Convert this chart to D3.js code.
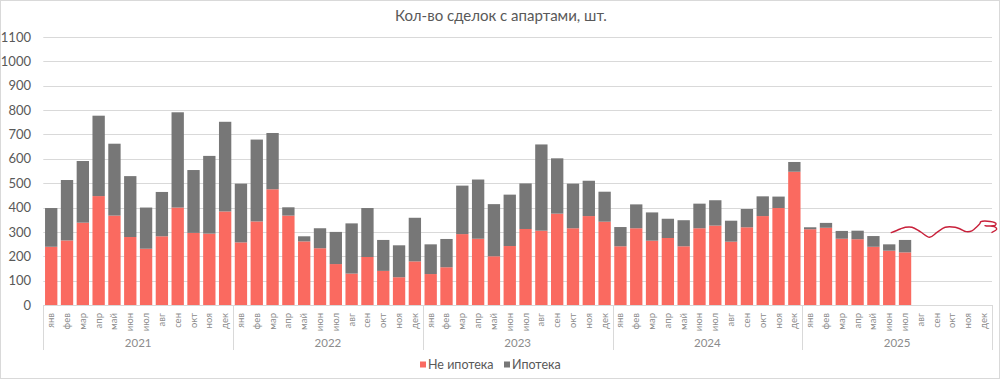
<!DOCTYPE html>
<html><head><meta charset="utf-8">
<script src="https://cdn.jsdelivr.net/npm/d3@7"></script>
<style>body{margin:0;background:#fff;}svg{display:block;font-family:Lato,"Noto Sans",sans-serif;}</style>
</head><body><svg id="c" width="1000" height="379"></svg>
<script>
const title = "Кол-во сделок с апартами, шт.";
const years = ["2021","2022","2023","2024","2025"];
const months = ["янв","фев","мар","апр","май","июн","июл","авг","сен","окт","ноя","дек"];
const seriesNames = ["Не ипотека","Ипотека"];
// Не ипотека (by month, 2021..2025; 2025 ends in July)
const nonMortgage = [
  239,265,338,447,367,279,231,282,400,296,293,384,
  257,343,475,367,261,233,168,129,197,140,114,179,
  127,155,291,272,200,242,312,305,375,315,365,342,
  241,315,264,275,241,315,326,260,319,365,398,547,
  311,317,272,270,239,223,216
];
// Ипотека
const mortgage = [
  159,248,253,330,295,250,169,182,391,258,319,368,
  241,336,231,34,21,82,132,206,201,127,131,179,
  122,116,199,243,214,211,187,354,227,183,145,123,
  79,98,116,79,107,101,104,86,75,81,47,40,
  8,20,32,35,44,26,51
];
const yTicks = [0,100,200,300,400,500,600,700,800,900,1000,1100];
// hand-drawn annotation: [position in months from axis start, value]
const sketchPos = [53.63,54.2,54.52,54.94,55.46,56.05,56.52,57.04,57.67,57.99,58.37,58.73,59.04,59.22,59.3,59.88,60.25,60.2,59.55,59.7,60.15,60.3,60.0];
const sketchVal = [297,312,319,319,301,278,298,319,319,312,301,304,321,333,342,343,335,327,325,324,322,312,298];

const svg = d3.select("#c");
const W = 1000, H = 379;
const left = 43.3, right = 992, y0 = 305, yTop = 37;
const cats = [];
years.forEach(y => months.forEach(m => cats.push(y + "|" + m)));
const data = nonMortgage.map((v,i) => ({key: cats[i], a: v, b: mortgage[i]}));

const x = d3.scaleBand().domain(cats).range([left, right]).paddingInner(0.22).paddingOuter(0.11);
const y = d3.scaleLinear().domain([0, 1100]).range([y0, yTop]);
const u = d3.scaleLinear().domain([0, cats.length]).range([left, right]);

svg.append("rect").attr("x",0.5).attr("y",0.5).attr("width",W-1).attr("height",H-1)
  .attr("fill","#fff").attr("stroke","#d9d9d9");

svg.append("text").attr("x",501).attr("y",21).attr("text-anchor","middle")
  .attr("font-size",15).attr("fill","#595959").text(title);

// gridlines
svg.append("g").selectAll("line").data(yTicks.filter(t=>t>0)).join("line")
  .attr("x1",left).attr("x2",right).attr("y1",d=>Math.round(y(d))+0.5).attr("y2",d=>Math.round(y(d))+0.5)
  .attr("stroke","#d9d9d9").attr("stroke-width",1.2);

// y axis labels
const ya = svg.append("g").attr("transform",`translate(31,0)`)
  .call(d3.axisLeft(y).tickValues(yTicks).tickFormat(d3.format("d")).tickSize(0).tickPadding(0));
ya.select(".domain").remove();
ya.selectAll("text").attr("font-size",13).attr("fill","#595959").attr("font-family","Lato,sans-serif");

// stacked bars
const stack = d3.stack().keys(["a","b"])(data);
const colors = ["#fa6a60","#777777"];
svg.append("g").selectAll("g").data(stack).join("g").attr("fill",(d,i)=>colors[i])
  .selectAll("rect").data(d=>d).join("rect")
  .attr("x",d=>x(d.data.key)).attr("width",x.bandwidth())
  .attr("y",d=>y(d[1])).attr("height",d=>y(d[0])-y(d[1]));

// baseline
svg.append("line").attr("x1",left).attr("x2",right).attr("y1",y0+0.5).attr("y2",y0+0.5)
  .attr("stroke","#d9d9d9");

// month labels
svg.append("g").selectAll("text").data(cats).join("text")
  .attr("transform",d=>`translate(${x(d)+x.bandwidth()/2+3},313) rotate(-90)`)
  .attr("text-anchor","end").attr("font-size",9.5).attr("fill","#8c8c8c")
  .text(d=>d.split("|")[1]);

// year separators
const bounds = d3.range(years.length+1).map(i=>u(i*12));
svg.append("g").selectAll("line").data(bounds).join("line")
  .attr("x1",d=>Math.round(d)+0.5).attr("x2",d=>Math.round(d)+0.5).attr("y1",y0).attr("y2",350)
  .attr("stroke","#d9d9d9");
svg.append("g").selectAll("text").data(years).join("text")
  .attr("x",(d,i)=>u(i*12+6)).attr("y",347).attr("text-anchor","middle")
  .attr("font-size",11.5).attr("fill","#8c8c8c").text(d=>d);

// annotation squiggle
const line = d3.line().x(d=>u(d[0])).y(d=>y(d[1])).curve(d3.curveCatmullRom.alpha(0.5));
svg.append("path").datum(sketchPos.map((p,i)=>[p,sketchVal[i]]))
  .attr("d",line).attr("fill","none").attr("stroke","#c8203a").attr("stroke-width",1.4)
  .attr("stroke-linejoin","round").attr("stroke-linecap","round");

// legend
const leg = svg.append("g");
const lx = [420, 504];
seriesNames.forEach((n,i)=>{
  leg.append("rect").attr("x",lx[i]).attr("y",361.5).attr("width",6).attr("height",6).attr("fill",colors[i]);
  leg.append("text").attr("x",lx[i]+8).attr("y",368.5).attr("font-size",12.5).attr("fill","#595959").text(n);
});
</script></body></html>
